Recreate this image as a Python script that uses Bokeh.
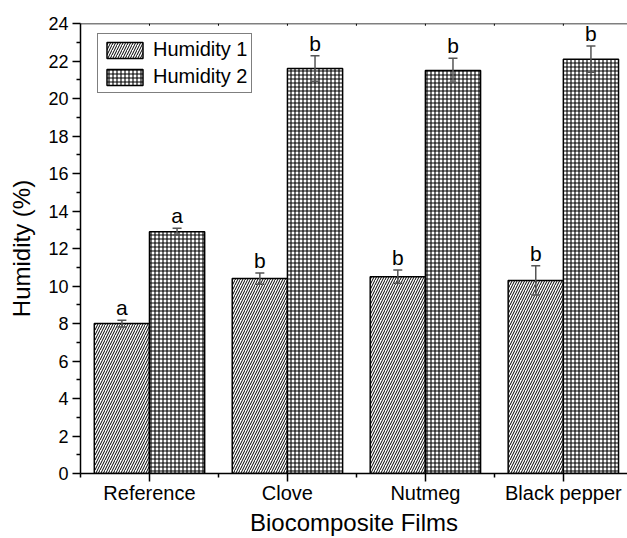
from bokeh.plotting import figure
from bokeh.models import (ColumnDataSource, FixedTicker, Range1d, Span,
                          Whisker, TeeHead, Legend, LegendItem)
from bokeh.core.properties import value
from bokeh.embed import file_html
from bokeh.resources import INLINE

# ---- data ----
categories = ["Reference", "Clove", "Nutmeg", "Black pepper"]
humidity1 = [8.0, 10.4, 10.5, 10.3]
humidity1_err = [0.18, 0.3, 0.35, 0.78]
humidity2 = [12.9, 21.6, 21.5, 22.1]
humidity2_err = [0.18, 0.68, 0.65, 0.7]
letters1 = ["a", "b", "b", "b"]
letters2 = ["a", "b", "b", "b"]
y_ticks = list(range(0, 25, 2))
y_minor = list(range(1, 24, 2))
y_max = 24

FONT = "Liberation Sans"
positions = [i + 1 for i in range(len(categories))]
x_minor = [p_ - 0.5 for p_ in positions] + [positions[-1] + 0.5]
offset = 0.2
bar_w = 0.4

src1 = ColumnDataSource(dict(
    x=[p - offset for p in positions], top=humidity1,
    upper=[v + e for v, e in zip(humidity1, humidity1_err)],
    lower=[v - e for v, e in zip(humidity1, humidity1_err)],
    letter=letters1))
src2 = ColumnDataSource(dict(
    x=[p + offset for p in positions], top=humidity2,
    upper=[v + e for v, e in zip(humidity2, humidity2_err)],
    lower=[v - e for v, e in zip(humidity2, humidity2_err)],
    letter=letters2))

p = figure(width=627, height=538,
           x_range=Range1d(0.5, 4.465), y_range=Range1d(0, y_max),
           output_backend="svg", toolbar_location=None,
           min_border_left=80, min_border_right=0,
           min_border_top=23, min_border_bottom=64)
p.outline_line_color = None
p.grid.visible = False
p.background_fill_color = "white"
p.border_fill_color = "white"

r1 = p.vbar(x="x", top="top", width=bar_w, bottom=0, source=src1,
            fill_color="white", line_color="black", line_width=1.5,
            hatch_pattern="/", hatch_scale=5, hatch_weight=1,
            hatch_color="black")
r2 = p.vbar(x="x", top="top", width=bar_w, bottom=0, source=src2,
            fill_color="white", line_color="black", line_width=1.5,
            hatch_pattern="+", hatch_scale=4, hatch_weight=1.1,
            hatch_color="black")

for src in (src1, src2):
    w = Whisker(source=src, base="x", upper="upper", lower="lower",
                level="annotation",
                line_color="#555555", line_width=1.5,
                upper_head=TeeHead(size=9, line_color="#555555", line_width=1.5),
                lower_head=TeeHead(size=9, line_color="#555555", line_width=1.5))
    p.add_layout(w)
    p.text(x="x", y="upper", text="letter", source=src,
           text_align="center", text_baseline="bottom", y_offset=-1,
           text_font=value(FONT), text_font_size="21px", text_color="black")

# top frame line with tiny inward ticks
p.add_layout(Span(location=y_max, dimension="width", line_color="black",
                  line_width=1.5))
top_ticks = positions + x_minor
p.segment(x0=top_ticks, x1=top_ticks, y0=[y_max] * len(top_ticks),
          y1=[y_max - 0.12] * len(top_ticks), line_color="black", line_width=1)

# ---- axes ----
xa = p.xaxis[0]
xa.ticker = FixedTicker(ticks=positions, minor_ticks=x_minor)
xa.major_label_overrides = {pos: cat for pos, cat in zip(positions, categories)}
xa.axis_label = "Biocomposite Films"

ya = p.yaxis[0]
ya.ticker = FixedTicker(ticks=y_ticks, minor_ticks=y_minor)
ya.axis_label = "Humidity (%)"

for ax in (xa, ya):
    ax.axis_line_color = "black"
    ax.axis_line_width = 1.5
    ax.major_tick_line_color = "black"
    ax.major_tick_line_width = 1.5
    ax.minor_tick_line_color = "black"
    ax.minor_tick_line_width = 1.5
    ax.major_tick_out = 8
    ax.major_tick_in = 0
    ax.minor_tick_out = 4
    ax.minor_tick_in = 0
    ax.major_label_text_font = FONT
    ax.major_label_text_color = "black"
    ax.axis_label_text_font = FONT
    ax.axis_label_text_font_style = "normal"
    ax.axis_label_text_font_size = "24px"
    ax.axis_label_text_color = "black"

xa.major_label_text_font_size = "20px"
xa.major_label_standoff = 0
xa.axis_label_standoff = 2
ya.major_label_text_font_size = "18px"
ya.major_label_standoff = 4
ya.axis_label_standoff = 10

legend = Legend(items=[LegendItem(label="Humidity 1", renderers=[r1]),
                       LegendItem(label="Humidity 2", renderers=[r2])],
                location=(17, 380), border_line_color="black",
                border_line_width=1, background_fill_color="white",
                background_fill_alpha=1.0,
                label_text_font=FONT, label_text_font_size="20px",
                label_text_color="black",
                glyph_width=45, glyph_height=20, padding=4, spacing=4,
                margin=0, label_standoff=6)
p.add_layout(legend)

open("out.html", "w").write(file_html(p, INLINE))
